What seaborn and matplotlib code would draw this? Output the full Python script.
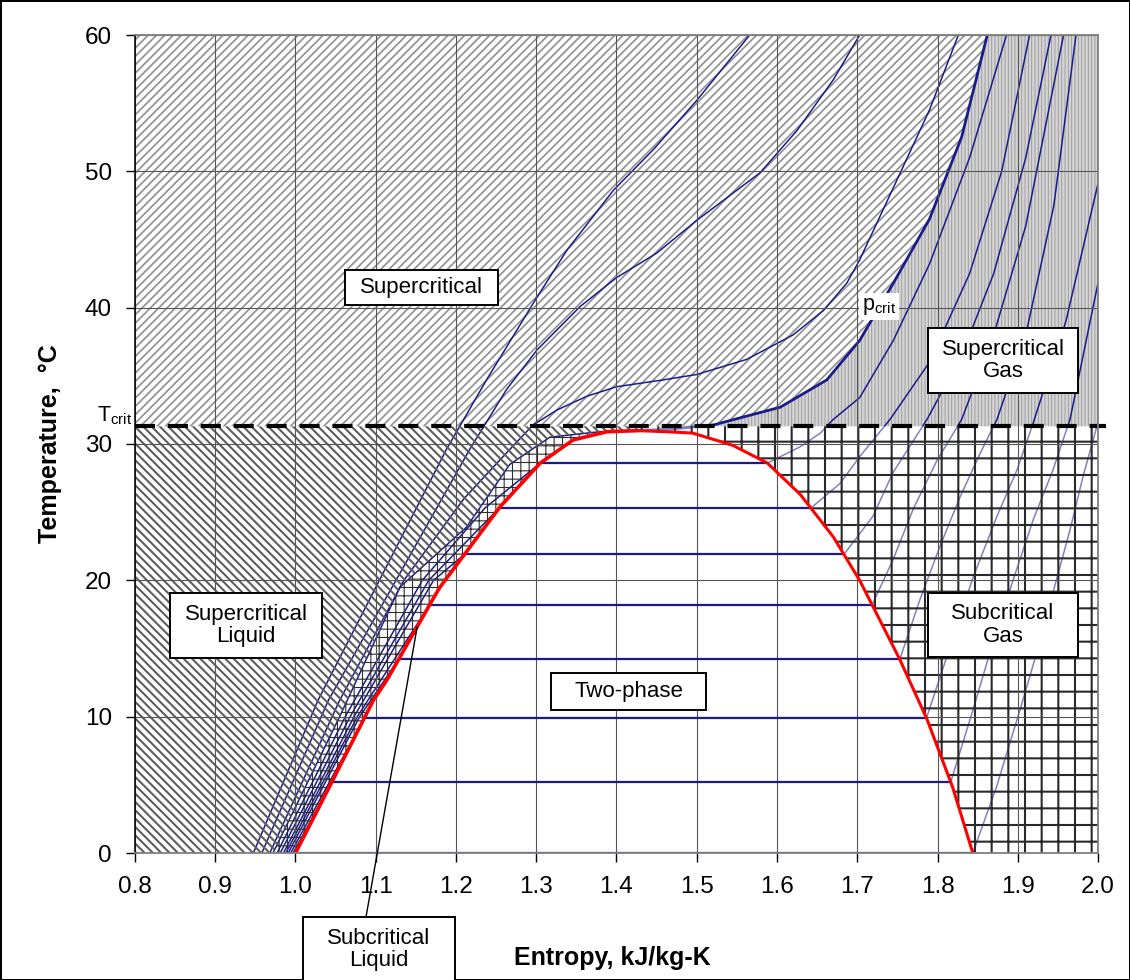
import numpy as np
import matplotlib
matplotlib.use("Agg")
import matplotlib.pyplot as plt
import seaborn as sns
from matplotlib.patches import Polygon, Rectangle
from matplotlib.ticker import MultipleLocator, FormatStrFormatter

# ---------------- data: CO2 T-s diagram (s in kJ/kg-K, T in °C) ----------------
S_MIN, S_MAX = 0.8, 2.0
T_MIN, T_MAX = 0.0, 60.0
t_crit_line = 31.3

# saturation dome
sat_liq_s = [1.000, 1.047, 1.097, 1.114, 1.171, 1.180, 1.255, 1.305, 1.346, 1.388, 1.426]
sat_liq_T = [0.0, 5.4, 11.2, 12.7, 18.6, 19.5, 25.4, 28.6, 30.3, 30.9, 30.98]
sat_vap_s = [1.426, 1.463, 1.495, 1.545, 1.588, 1.629, 1.670, 1.703, 1.753, 1.787, 1.819, 1.844]
sat_vap_T = [30.98, 30.9, 30.8, 29.9, 28.6, 26.3, 23.2, 20.0, 14.2, 9.8, 4.8, 0.0]

# saturation temperatures of the subcritical isobars (70, 65, ... 35 bar)
isobar_Tsat = [28.6, 25.3, 21.9, 18.2, 14.2, 9.9, 5.2, 0.0]

# compressed-liquid branches (end on the saturated-liquid line)
p70_liq_s = [0.977, 1.062, 1.158, 1.236]
p70_liq_T = [0.0, 10.0, 20.0, 25.3]
p65_liq_s = [0.981, 1.068, 1.166]
p65_liq_T = [0.0, 10.0, 20.0]
p60_liq_s = [0.985, 1.073, 1.172]
p60_liq_T = [0.0, 10.0, 20.0]
p55_liq_s = [0.988, 1.077]
p55_liq_T = [0.0, 10.0]
p50_liq_s = [0.991, 1.080]
p50_liq_T = [0.0, 10.0]
p45_liq_s = [0.994]
p45_liq_T = [0.0]
p40_liq_s = [0.997]
p40_liq_T = [0.0]
p35_liq_s = []
p35_liq_T = []

# superheated-vapour branches (start on the saturated-vapour line)
p70_vap_s = [1.629, 1.654, 1.670, 1.703, 1.745, 1.790, 1.840, 1.886]
p70_vap_T = [29.8, 30.8, 31.8, 33.4, 37.6, 43.2, 51.0, 60.0]
p65_vap_s = [1.6785, 1.7034, 1.7408, 1.790, 1.840, 1.880, 1.9147]
p65_vap_T = [27.1, 29.1, 31.8, 36.0, 42.5, 50.0, 60.0]
p60_vap_s = [1.7196, 1.7445, 1.7869, 1.830, 1.870, 1.910, 1.9414]
p60_vap_T = [24.7, 27.9, 31.8, 36.5, 42.5, 51.0, 60.0]
p55_vap_s = [1.7445, 1.7695, 1.7994, 1.8301, 1.870, 1.910, 1.9571]
p55_vap_T = [21.5, 25.2, 28.8, 31.8, 38.0, 46.0, 60.0]
p50_vap_s = [1.7782, 1.8031, 1.828, 1.853, 1.8741, 1.910, 1.945, 1.9726]
p50_vap_T = [18.6, 22.5, 26.1, 29.3, 31.8, 38.0, 47.5, 60.0]
p45_vap_s = [1.8156, 1.8442, 1.8741, 1.8991, 1.919, 1.960, 2.000]
p45_vap_T = [15.1, 20.2, 24.7, 28.1, 31.5, 39.0, 49.1]
p40_vap_s = [1.8442, 1.8654, 1.8941, 1.919, 1.9439, 1.9651, 2.000]
p40_vap_T = [10.5, 14.7, 20.0, 24.4, 28.1, 31.8, 41.8]
p35_vap_s = [1.8738, 1.9028, 1.9237, 1.9439, 1.9651, 1.9813, 2.000]
p35_vap_T = [4.9, 10.5, 14.7, 19.1, 23.7, 27.6, 31.6]

# critical isobar
pcrit_liq_s = [0.972, 1.055, 1.130, 1.213, 1.267, 1.317, 1.379, 1.426]
pcrit_liq_T = [0.0, 10.0, 19.5, 23.9, 28.5, 30.5, 30.9, 30.98]
pcrit_vap_s = [1.426, 1.470, 1.521, 1.604, 1.662, 1.703, 1.745, 1.790, 1.830, 1.862]
pcrit_vap_T = [30.98, 31.1, 31.4, 32.7, 34.7, 37.6, 41.8, 46.5, 52.5, 60.0]

# supercritical isobars
hp1_s = [0.9475, 1.028, 1.188, 1.238, 1.296, 1.338, 1.396, 1.446, 1.500, 1.566]
hp1_T = [0.0, 11.2, 29.6, 34.7, 40.3, 44.2, 48.6, 51.6, 55.2, 60.0]
hp2_s = [0.958, 1.041, 1.217, 1.263, 1.301, 1.355, 1.400, 1.450, 1.500, 1.579, 1.625, 1.670, 1.703]
hp2_T = [0.0, 11.2, 29.6, 34.0, 36.9, 40.1, 42.2, 44.0, 46.4, 49.9, 53.0, 56.7, 60.0]
hp3_s = [0.968, 1.055, 1.135, 1.210, 1.267, 1.296, 1.326, 1.363, 1.400, 1.458, 1.500,
         1.562, 1.620, 1.658, 1.687, 1.703, 1.745, 1.790, 1.826]
hp3_T = [0.0, 11.2, 20.0, 26.0, 29.6, 31.4, 32.5, 33.5, 34.2, 34.7, 35.1,
         36.2, 38.0, 39.8, 41.8, 43.5, 48.8, 54.5, 60.0]

# ---------------- style ----------------
sns.set_theme(style="white")
plt.rcParams["font.family"] = ["Liberation Sans", "DejaVu Sans"]
plt.rcParams["text.color"] = "black"
plt.rcParams["axes.labelcolor"] = "black"
plt.rcParams["mathtext.fontset"] = "custom"
plt.rcParams["mathtext.rm"] = "Liberation Sans"
plt.rcParams["mathtext.it"] = "Liberation Sans:italic"
plt.rcParams["mathtext.bf"] = "Liberation Sans:bold"

NAVY = "#1b1b8a"
RED = "#ff0000"

W, H = 1130, 980
fig = plt.figure(figsize=(W / 100, H / 100), dpi=100)
fig.patch.set_facecolor("white")
fig.patch.set_edgecolor("black")
fig.patch.set_linewidth(2.0)

ax = fig.add_axes([135 / W, 1 - 853 / H, (1098 - 135) / W, (853 - 35) / H])
ax.set_facecolor("white")
ax.set_xlim(S_MIN, S_MAX)
ax.set_ylim(T_MIN, T_MAX)


def add_region(s, T, hatch, color, hlw, face="none", z=1):
    with plt.rc_context({"hatch.linewidth": hlw}):
        poly = Polygon(np.column_stack([s, T]), closed=True, facecolor=face,
                       edgecolor=color, linewidth=0, hatch=hatch, zorder=z)
    if hasattr(poly, "set_hatch_linewidth"):
        poly.set_hatch_linewidth(hlw)
    ax.add_patch(poly)


liq_s = np.array(sat_liq_s)
liq_T = np.array(sat_liq_T)
vap_s = np.array(sat_vap_s)
vap_T = np.array(sat_vap_T)
pcl_s = np.array(pcrit_liq_s)
pcl_T = np.array(pcrit_liq_T)
pcv_s = np.array(pcrit_vap_s)
pcv_T = np.array(pcrit_vap_T)
crit_s, crit_T = liq_s[-1], liq_T[-1]

# upper part of the critical isobar (above the critical-temperature line)
s_at_tc = np.interp(t_crit_line, pcv_T, pcv_s)
keep = pcv_T > t_crit_line
up_s = np.concatenate([[s_at_tc], pcv_s[keep]])
up_T = np.concatenate([[t_crit_line], pcv_T[keep]])

# supercritical
add_region(np.concatenate([[S_MIN, S_MIN], up_s[::-1]]),
           np.concatenate([[t_crit_line, T_MAX], up_T[::-1]]),
           "////", "#929292", 1.25, face="white", z=1)
# supercritical gas
add_region(np.concatenate([up_s, [S_MAX, S_MAX]]),
           np.concatenate([up_T, [T_MAX, t_crit_line]]),
           "|||||", "#9a9a9a", 0.6, face="#d2d2d2", z=1)
# supercritical liquid
add_region(np.concatenate([[S_MIN, S_MIN, crit_s], pcl_s[::-1]]),
           np.concatenate([[T_MIN, t_crit_line, t_crit_line], pcl_T[::-1]]),
           "\\\\\\\\", "#5e5e5e", 1.5, face="none", z=3)
# subcritical liquid
add_region(np.concatenate([pcl_s, liq_s[::-1]]),
           np.concatenate([pcl_T, liq_T[::-1]]),
           "++", "#2e2e2e", 0.8, face="none", z=3)
# subcritical gas
add_region(np.concatenate([vap_s, [S_MAX, S_MAX, crit_s]]),
           np.concatenate([vap_T, [T_MIN, t_crit_line, t_crit_line]]),
           "+", "#2a2a2a", 1.5, face=(1, 1, 1, 0.45), z=3)


def curve(s, T, lw=1.1, color=NAVY, z=2):
    sns.lineplot(x=list(s), y=list(T), sort=False, estimator=None, ax=ax,
                 color=color, linewidth=lw, legend=False, zorder=z)


# subcritical isobars: liquid branch + vapour branch
liq_branches = [(p70_liq_s, p70_liq_T), (p65_liq_s, p65_liq_T), (p60_liq_s, p60_liq_T),
                (p55_liq_s, p55_liq_T), (p50_liq_s, p50_liq_T), (p45_liq_s, p45_liq_T),
                (p40_liq_s, p40_liq_T), (p35_liq_s, p35_liq_T)]
vap_branches = [(p70_vap_s, p70_vap_T), (p65_vap_s, p65_vap_T), (p60_vap_s, p60_vap_T),
                (p55_vap_s, p55_vap_T), (p50_vap_s, p50_vap_T), (p45_vap_s, p45_vap_T),
                (p40_vap_s, p40_vap_T), (p35_vap_s, p35_vap_T)]
for tsat, (ls, lT), (vs, vT) in zip(isobar_Tsat, liq_branches, vap_branches):
    s_l = np.interp(tsat, liq_T, liq_s)
    s_v = np.interp(tsat, vap_T[::-1], vap_s[::-1])
    if len(ls):
        curve(list(ls) + [s_l], list(lT) + [tsat])
    curve([s_v] + list(vs), [tsat] + list(vT))
    # isotherm across the two-phase region
    curve([s_l, s_v], [tsat, tsat], lw=1.6, z=5)

# critical and supercritical isobars
curve(pcrit_liq_s, pcrit_liq_T, lw=1.1)
curve(pcrit_vap_s, pcrit_vap_T, lw=2.0)
curve(hp1_s, hp1_T)
curve(hp2_s, hp2_T)
curve(hp3_s, hp3_T)

# saturation dome
curve(sat_liq_s, sat_liq_T, lw=2.6, color=RED, z=6)
curve(sat_vap_s, sat_vap_T, lw=2.2, color=RED, z=6)

# critical temperature line
ax.axhline(t_crit_line, xmin=0, xmax=1.008, color="black", lw=3.0,
           dashes=(4.8, 3.1), zorder=7, clip_on=False)

# ---------------- axes cosmetics ----------------
ax.xaxis.set_major_locator(MultipleLocator(0.1))
ax.xaxis.set_major_formatter(FormatStrFormatter("%.1f"))
ax.yaxis.set_major_locator(MultipleLocator(10))
ax.grid(True, color="#555555", lw=0.8)
ax.xaxis.set_zorder(4.5)
ax.yaxis.set_zorder(4.5)
ax.tick_params(axis="both", which="major", direction="out", length=6.5, width=1.0,
               color="black", labelsize=17.5, pad=10, bottom=True, left=True,
               labelcolor="black")
for name, sp in ax.spines.items():
    sp.set_zorder(8)
    sp.set_color("#808080")
    sp.set_linewidth(1.3)
ax.spines["left"].set_color("black")
ax.spines["left"].set_linewidth(1.1)

ax.set_xlabel("Entropy, kJ/kg-K", fontsize=18, fontweight="bold", color="black")
ax.xaxis.set_label_coords((612 - 135) / 963, -(958 - 853) / 818)
ax.xaxis.label.set_va("center")
ax.set_ylabel("Temperature,  °C", fontsize=18, fontweight="bold", color="black")
ax.yaxis.set_label_coords((50 - 135) / 963, 0.5)
ax.yaxis.label.set_va("center")

# ---------------- annotations ----------------
fig.text(97 / W, 1 - 421 / H, r"T$_{\rm crit}$", fontsize=15.5, ha="left", va="baseline",
         color="black")
fig.text(862 / W, 1 - 310 / H, r"p$_{\rm crit}$", fontsize=15.5, ha="left", va="baseline",
         color="black", zorder=9,
         bbox=dict(boxstyle="square,pad=0.15", fc="white", ec="none"))


def label_box(text, cx, cy, w, h):
    rect = Rectangle(((cx - w / 2) / W, 1 - (cy + h / 2) / H), w / W, h / H,
                     transform=fig.transFigure, facecolor="white", edgecolor="black",
                     linewidth=1.4, zorder=10)
    fig.add_artist(rect)
    fig.text(cx / W, 1 - cy / H, text, ha="center", va="center", fontsize=16,
             linespacing=1.12, color="black", zorder=11)


label_box("Supercritical", 421.5, 287.5, 153, 35)
label_box("Supercritical\nGas", 1003, 360.5, 150, 65)
label_box("Supercritical\nLiquid", 246, 625.5, 152, 65)
label_box("Subcritical\nGas", 1003, 625, 150, 64)
label_box("Two-phase", 628.5, 691.5, 155, 37)
label_box("Subcritical\nLiquid", 379, 949.5, 152, 65)

# leader from the subcritical-liquid box to the saturated-liquid line
lead_T = 16.6
lead_s = np.interp(lead_T, liq_T, liq_s)
ax.annotate("", xy=(lead_s, lead_T), xycoords="data",
            xytext=(366 / W, 1 - 917 / H), textcoords="figure fraction",
            arrowprops=dict(arrowstyle="-", color="black", lw=1.0, shrinkA=0, shrinkB=0),
            zorder=9, annotation_clip=False)

fig.savefig("out.png", dpi=100)
